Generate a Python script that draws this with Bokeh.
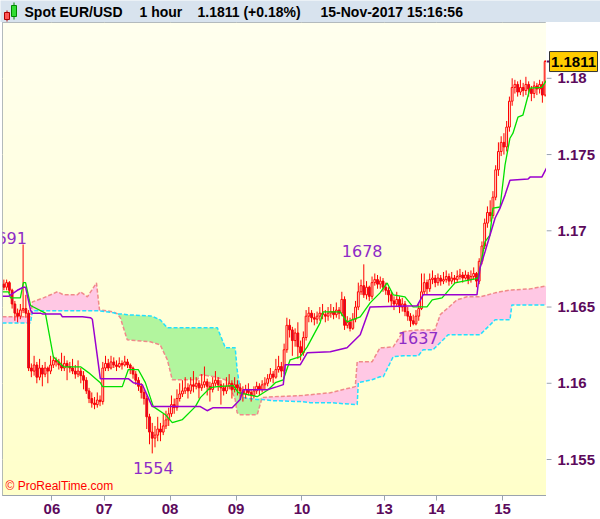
import numpy as np
from bokeh.plotting import figure
from bokeh.layouts import column, row
from bokeh.models import (ColumnDataSource, FixedTicker, CustomJSTickFormatter,
                          Label, Range1d, Grid)
from bokeh.core.properties import value
from bokeh.embed import file_html
from bokeh.resources import INLINE

# ---------------- data (prices given as pips above 1.1500) ----------------
BASE = 1.15
PIP = 0.0001

open_first_pips = 165
close_pips = [163, 166, 161, 152, 146, 144, 148, 149, 146, 110,
              108, 112, 104, 110, 106, 110, 108, 112, 115, 114,
              112, 110, 113, 111, 110, 108, 106, 108, 105, 102,
              95, 90, 87, 86, 89, 88, 110, 113, 110, 114,
              112, 111, 113, 112, 114, 112, 110, 106, 102, 98,
              94, 90, 78, 68, 64, 66, 70, 68, 72, 76,
              80, 86, 84, 90, 93, 95, 97, 95, 99, 98,
              100, 97, 99, 101, 98, 96, 100, 102, 99, 97,
              95, 98, 100, 96, 99, 97, 95, 93, 96, 94,
              92, 95, 98, 96, 99, 100, 103, 106, 104, 109,
              111, 108, 122, 138, 135, 128, 133, 124, 120, 130,
              144, 146, 143, 142, 144, 146, 145, 144, 146, 147,
              145, 148, 146, 155, 138, 140, 136, 142, 150, 160,
              164, 158, 163, 157, 166, 168, 165, 167, 163, 161,
              158, 154, 152, 155, 150, 152, 147, 144, 141, 139,
              144, 149, 160, 166, 162, 168, 169, 166, 169, 167,
              168, 170, 167, 169, 168, 170, 171, 169, 171, 168,
              170, 172, 167, 180, 190, 205, 212, 210, 222, 240,
              252, 258, 255, 268, 285, 294, 296, 291, 294, 292,
              296, 293, 290, 295, 293, 296, 289, 311]
high_pips = [168, 168, 167, 162, 154, 149, 152, 191, 158, 148,
             113, 118, 114, 116, 112, 114, 111, 118, 118, 117,
             116, 120, 118, 115, 114, 116, 112, 115, 110, 108,
             104, 97, 94, 91, 94, 92, 114, 118, 116, 118,
             117, 115, 117, 115, 118, 116, 113, 111, 108, 104,
             100, 96, 92, 80, 74, 72, 78, 74, 80, 82,
             84, 92, 90, 96, 100, 102, 104, 100, 104, 108,
             104, 102, 106, 111, 103, 101, 104, 108, 104, 102,
             100, 104, 106, 102, 104, 102, 100, 98, 99, 100,
             96, 98, 101, 100, 102, 104, 106, 110, 108, 116,
             118, 114, 126, 143, 142, 137, 136, 140, 128, 134,
             148, 150, 148, 146, 147, 150, 152, 148, 150, 152,
             150, 153, 150, 160, 157, 144, 143, 146, 154, 166,
             168, 178, 167, 164, 170, 172, 171, 170, 169, 166,
             163, 160, 157, 160, 157, 156, 154, 150, 146, 145,
             148, 153, 172, 172, 168, 172, 174, 171, 172, 171,
             173, 174, 172, 173, 171, 174, 175, 173, 174, 173,
             174, 176, 173, 182, 193, 208, 216, 220, 226, 243,
             258, 262, 264, 272, 288, 300, 299, 298, 299, 297,
             301, 298, 295, 298, 297, 299, 298, 312]
low_pips = [161, 161, 159, 149, 141, 140, 142, 146, 143, 108,
            104, 105, 100, 102, 98, 104, 100, 106, 110, 111,
            109, 108, 108, 102, 107, 106, 103, 104, 100, 96,
            93, 87, 84, 83, 84, 85, 86, 108, 108, 109,
            110, 108, 110, 109, 111, 110, 106, 103, 99, 95,
            90, 86, 70, 60, 54, 58, 62, 62, 66, 70,
            72, 78, 80, 82, 88, 91, 93, 90, 93, 94,
            96, 90, 95, 97, 92, 88, 94, 98, 95, 86,
            92, 93, 96, 90, 94, 92, 89, 88, 90, 92,
            88, 90, 93, 92, 94, 96, 98, 101, 100, 103,
            107, 104, 106, 120, 130, 118, 124, 116, 115, 118,
            128, 140, 140, 138, 139, 141, 142, 140, 141, 143,
            142, 143, 142, 144, 135, 136, 134, 135, 140, 148,
            158, 156, 155, 154, 155, 164, 162, 162, 160, 158,
            153, 150, 148, 150, 146, 147, 144, 141, 137, 138,
            138, 141, 148, 158, 158, 160, 165, 163, 164, 164,
            165, 166, 164, 165, 165, 166, 168, 166, 168, 165,
            166, 168, 163, 165, 178, 188, 202, 206, 208, 220,
            236, 249, 250, 252, 265, 282, 290, 288, 289, 288,
            289, 288, 285, 287, 289, 290, 284, 288]

# Tenkan-sen (green) and Kijun-sen (purple): bar position, pips
tenkan_x = [-0.5, 1.7, 2.4, 6.0, 7.1, 7.9, 9.7, 15.1, 18.0, 21.7, 27.9, 30.8, 35.1, 35.9,
            43.1, 45.3, 48.9, 51.5, 54.4, 58.8, 61.3, 65.0, 69.7, 71.5, 75.1, 77.7, 83.5,
            85.3, 92.2, 96.2, 98.8, 101.7, 104.2, 107.9, 110.4, 115.1, 116.2, 122.4, 124.9,
            129.7, 133.3, 136.9, 139.5, 141.7, 146.0, 148.9, 154.0, 155.9, 159.5, 164.2,
            171.5, 172.6, 175.1, 176.9, 178.0, 180.6, 182.4, 184.2, 185.3, 187.1, 188.9,
            191.5, 195.8, 197.5]
tenkan_pips = [160, 160, 156, 156, 166, 166, 151, 146, 117.4, 110.8, 110.8, 107, 100.4, 97.8,
               97.8, 109, 109, 100.4, 84.7, 79.4, 74.2, 76.2, 84.7, 90.6, 97.1, 97.8, 98.4,
               93.8, 91.2, 95.8, 100.4, 102.3, 115.4, 117.4, 123.9, 139.6, 146.8, 146.8, 140.3,
               143.6, 152.7, 159.3, 165.8, 158, 156.7, 150.1, 150.1, 154.7, 156, 165.8,
               168.4, 169.1, 192.7, 197.2, 214.9, 215.6, 243.1, 260.7, 264, 274.5, 275.8,
               293.5, 294.1, 298.7]
kijun_x = [-0.5, 1.7, 4.9, 7.1, 7.9, 9.7, 10.4, 13.3, 14.0, 20.6, 21.3, 28.6, 31.5, 32.2,
           35.1, 45.3, 47.1, 50.4, 54.0, 71.5, 74.0, 76.2, 83.1, 86.0, 87.1, 95.8, 99.5,
           101.7, 102.4, 107.9, 110.4, 118.8, 124.9, 129.7, 133.3, 150.4, 152.6, 172.2,
           173.3, 175.1, 178.8, 180.6, 182.4, 184.2, 190.8, 191.5, 195.8, 197.5]
kijun_pips = [157, 157, 161, 163, 163, 148, 146, 146, 145.5, 145.5, 143.6, 143.6, 143, 142,
              103, 103, 100.4, 99, 84.7, 84.7, 82, 84, 84, 89.3, 95.8, 95.8, 97.8,
              99.1, 112.2, 112.2, 120, 120.7, 123.3, 131.8, 150.1, 150.8, 158, 158,
              175.6, 186.1, 208.4, 214.9, 223.4, 233.2, 233.9, 235.2, 235.2, 241.1]

# Senkou spans (cloud edges): salmon edge A, cyan edge B
span_x = [-0.5, 9.7, 10.4, 14.4, 19.5, 21.7, 26.8, 27.9, 30.4, 33.7,
          34.8, 39.9, 41.3, 42.4, 44.9, 53.3, 54.4, 56.9, 59.5, 61.3,
          70.4, 71.5, 76.9, 77.7, 80.6, 81.7, 84.2, 84.9, 86.0, 87.1,
          92.2, 94.0, 98.0, 107.9, 111.5, 118.8, 127.9, 128.6, 129.0, 134.0,
          136.9, 138.1, 141.7, 145.3, 150.8, 152.6, 156.2, 156.9, 158.8, 159.9,
          161.7, 164.9, 168.6, 173.3, 178.8, 184.2, 184.9, 191.5, 197.5]
span_a_pips = [143.6, 143.6, 153.4, 156, 160, 158, 158, 160, 156.7, 165.8,
               148.2, 146.8, 145.5, 142.9, 128.5, 127.2, 126.6, 125.2, 115.4, 102.3,
               102.3, 105.6, 104.3, 103.6, 102.3, 101, 89.3, 80.7, 79.4, 79.4,
               79.4, 90.6, 91.2, 91.9, 92.5, 93.8, 97.8, 114.1, 114.1, 114.1,
               123.3, 123.3, 123.9, 133.8, 135, 135, 135, 135, 144.9, 146.8,
               149.5, 154.7, 156.7, 156.7, 159.3, 161.2, 161.2, 161.9, 163.9]
span_b_pips = [139.6, 139.6, 147.5, 147.5, 147.5, 147.5, 147.5, 147.5, 147.5, 147.5,
               147.5, 146.2, 145.5, 145.5, 144.9, 144.2, 143.6, 141.6, 136.4, 136.4,
               136.4, 136.4, 136.4, 136.4, 123.3, 123.3, 123.3, 108.9, 95.8, 90.6,
               89.3, 89.3, 88.6, 88, 87.3, 87.3, 86, 86, 100.4, 102.3,
               104.3, 104.3, 117.4, 118, 118, 122, 122, 123.3, 126.6, 128.5,
               131.8, 131.8, 131.8, 131.8, 141.6, 141.6, 151.4, 151.4, 151.4]

# extreme-value annotations
extreme_text = ["1691", "1554", "1678", "1637"]
extreme_x = [1.0, 54.4, 130.4, 150.8]
extreme_pips = [195.3, 44.7, 186.8, 129.8]

price_ticks = [1.155, 1.16, 1.165, 1.17, 1.175, 1.18]
price_labels = ["1.155", "1.16", "1.165", "1.17", "1.175", "1.18"]
day_first_bar = [18, 37, 61, 85, 109, 139, 158, 182]
day_labels = ["06", "07", "08", "09", "10", "13", "14", "15"]

header_texts = ["Spot EUR/USD", "1 hour", "1.1811 (+0.18%)", "15-Nov-2017 15:16:56"]
header_x = [24, 139, 197, 320]
last_text = "1.1811"

# ---------------- derived ----------------
def to_price(v):
    return [BASE + p * PIP for p in v]

close = to_price(close_pips)
high = to_price(high_pips)
low = to_price(low_pips)
opn = to_price([open_first_pips] + close_pips[:-1])
N = len(close)
idx = list(range(N))

up = dict(x=[], top=[], bottom=[])
dn = dict(x=[], top=[], bottom=[])
for i in idx:
    tgt = up if close[i] >= opn[i] else dn
    tgt["x"].append(i)
    tgt["top"].append(max(opn[i], close[i]))
    tgt["bottom"].append(min(opn[i], close[i]))

span_a = to_price(span_a_pips)
span_b = to_price(span_b_pips)
span_top = [max(a, b) for a, b in zip(span_a, span_b)]

Y0, Y1 = 1.15264, 1.18366
FONT = "Liberation Sans"
AXIS_COL = "#5c0a5c"
EDGE = "#9aa3ad"
yr = Range1d(Y0, Y1)

# ---------------- main chart ----------------
p = figure(width=546, height=497, x_range=Range1d(-0.5, N - 0.5), y_range=yr,
           y_axis_location=None, output_backend="svg", toolbar_location=None,
           min_border_left=2, min_border_right=0, min_border_top=0, min_border_bottom=24,
           background_fill_color="#ffffd6", border_fill_color="white",
           outline_line_color=EDGE)

# soft vertical background gradient (pale at top, yellow at bottom)
rows = 96
grad = np.empty((rows, 1), dtype=np.uint32)
gv = grad.view(dtype=np.uint8).reshape((rows, 1, 4))
for r in range(rows):
    t = r / (rows - 1)
    gv[r, 0, 0] = 255
    gv[r, 0, 1] = 255
    gv[r, 0, 2] = int(round(202 + t * (238 - 202)))
    gv[r, 0, 3] = 255
p.image_rgba(image=[grad], x=-0.5, y=Y0, dw=N, dh=Y1 - Y0)

day_ticks = [b - 0.5 for b in day_first_bar]
p.xaxis.ticker = FixedTicker(ticks=day_ticks)
p.xaxis.formatter = CustomJSTickFormatter(
    args=dict(day_pos=day_ticks, day_lab=day_labels),
    code="const k = day_pos.indexOf(tick); return k < 0 ? '' : day_lab[k];")
ax = p.xaxis[0]
ax.major_label_text_font = FONT
ax.major_label_text_font_style = "bold"
ax.major_label_text_font_size = "15px"
ax.major_label_text_color = AXIS_COL
ax.major_tick_in = 0
ax.major_tick_out = 5
ax.major_tick_line_color = EDGE
ax.minor_tick_line_color = None
ax.axis_line_color = EDGE
ax.major_label_standoff = 3

p.add_layout(Grid(dimension=1, ticker=FixedTicker(ticks=price_ticks)))
p.grid.grid_line_color = "#e3dfb8"
p.grid.grid_line_width = 1

# cloud
p.varea(x=span_x, y1=span_b, y2=span_top, fill_color="#ffc8e4")
p.varea(x=span_x, y1=span_a, y2=span_top, fill_color="#b2f59e")
p.line(span_x, span_a, line_color="#f08a8a", line_width=1.5, line_dash="4 2")
p.line(span_x, span_b, line_color="#22e0ff", line_width=1.5, line_dash="4 2")

# candles
p.segment(x0=idx, x1=idx, y0=low, y1=high, line_color="#ff0000", line_width=1)
p.vbar(source=ColumnDataSource(up), x="x", top="top", bottom="bottom", width=0.66,
       fill_color="#ffffe8", line_color="#ff0000", line_width=1)
p.vbar(source=ColumnDataSource(dn), x="x", top="top", bottom="bottom", width=0.66,
       fill_color="#c0103e", line_color="#ff0000", line_width=1)

# ichimoku lines
p.line(tenkan_x, to_price(tenkan_pips), line_color="#00e000", line_width=1.3)
p.line(kijun_x, to_price(kijun_pips), line_color="#9a00d0", line_width=1.5)

# extreme labels
p.text(x=extreme_x, y=to_price(extreme_pips), text=extreme_text, text_align="center",
       text_baseline="middle", text_color="#8e2cc6", text_font=value("DejaVu Sans"),
       text_font_size="16px")

p.add_layout(Label(x=-0.5, y=Y0, x_offset=3, y_offset=3, text="© ProRealTime.com",
                   text_color="#ff0000", text_font=FONT, text_font_size="12px",
                   text_baseline="bottom"))

# ---------------- price scale strip (right) ----------------
s = figure(width=54, height=497, x_range=Range1d(0, 54), y_range=yr,
           x_axis_location=None, y_axis_location=None, output_backend="svg",
           toolbar_location=None, min_border_left=0, min_border_right=0,
           min_border_top=0, min_border_bottom=24, background_fill_color="white",
           border_fill_color="white", outline_line_color=None)
s.grid.visible = False
s.segment(x0=[0] * len(price_ticks), x1=[5] * len(price_ticks), y0=price_ticks,
          y1=price_ticks, line_color=EDGE, line_width=1)
s.text(x=[11] * len(price_ticks), y=price_ticks, text=price_labels, text_baseline="middle",
       text_font=value(FONT), text_font_style="bold", text_font_size="15px",
       text_color=AXIS_COL)
s.segment(x0=[0], x1=[3], y0=[close[-1]], y1=[close[-1]], line_color=AXIS_COL, line_width=2)
s.rect(x=[27], y=[close[-1]], width=[48], height=[20], height_units="screen",
       fill_color="#ffcc00", line_color="#333333")
s.text(x=[27], y=[close[-1]], text=[last_text], text_align="center", text_baseline="middle",
       text_font=value(FONT), text_font_style="bold", text_font_size="15px",
       text_color="#000000")

# ---------------- header bar ----------------
h = figure(width=600, height=22, x_range=Range1d(0, 600), y_range=Range1d(0, 22),
           x_axis_location=None, y_axis_location=None, output_backend="svg",
           toolbar_location=None, min_border=0, background_fill_color="#d8e3ee",
           border_fill_color="#d8e3ee", outline_line_color=None)
h.grid.visible = False
h.segment(x0=[6.5, 13.5], x1=[6.5, 13.5], y0=[1, 3], y1=[12, 20], line_color=["#aa0000", "#008800"])
h.quad(left=[4, 11], right=[9, 16], bottom=[3, 6], top=[10, 17],
       fill_color=["#ff5555", "#33dd33"], line_color=["#aa0000", "#008800"])
h.text(x=header_x, y=[11] * len(header_x), text=header_texts, text_baseline="middle",
       text_font=value(FONT), text_font_style="bold", text_font_size="14px",
       text_color="#000000")

layout = column(h, row(p, s, spacing=0), spacing=0)
open("out.html", "w").write(file_html(layout, INLINE))
